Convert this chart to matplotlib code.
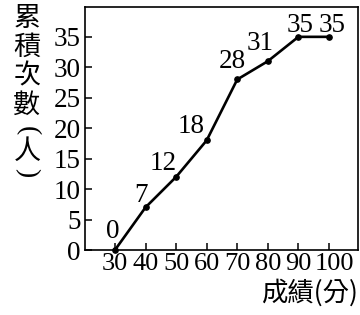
import matplotlib
matplotlib.use('Agg')
from matplotlib import pyplot as plt
from matplotlib.transforms import ScaledTranslation

# cumulative frequency data
scores = [30, 40, 50, 60, 70, 80, 90, 100]
cum_counts = [0, 7, 12, 18, 28, 31, 35, 35]
y_ticks = [0, 5, 10, 15, 20, 25, 30, 35]
x_title = '成績(分)'
y_title = ['累', '積', '次', '數', '(', '人', ')']

# label offsets (points) for each value label
label_dx = [-1.5, -3.6, -9, -11.5, -3.2, -5.4, 1, 2]
label_dy = [8.6, 3.6, 5, 5, 8.6, 7.9, 3.6, 3.6]

plt.rcParams['font.family'] = ['Liberation Serif', 'Noto Sans CJK TC']
cjk_font = ['Noto Sans CJK TC', 'DejaVu Sans']

fig = plt.figure(figsize=(3.6, 3.15), dpi=100)
ax = fig.add_axes([85/360, 65/315, 273/360, 243/315])

ax.plot(scores, cum_counts, color='black', linewidth=1.9,
        marker='o', markersize=3.8, zorder=3, clip_on=False)

for x, y, dx, dy in zip(scores, cum_counts, label_dx, label_dy):
    ax.annotate(str(y), (x, y), xytext=(dx, dy), textcoords='offset points',
                ha='center', va='baseline', fontsize=19.5)

ax.set_xlim(20.2, 109.5)
ax.set_ylim(0, 39.9)
ax.set_xticks(scores)
ax.set_yticks(y_ticks)
ax.set_xticklabels([str(s) for s in scores], fontsize=19)
ax.set_yticklabels([str(t) for t in y_ticks], fontsize=19.5)
ax.tick_params(direction='in', length=5, width=1.1, pad=3)
ax.tick_params(axis='x', pad=2.5)

# nudge the last x label right so it doesn't run into "90"
lab = ax.get_xticklabels()[-1]
lab.set_transform(lab.get_transform() + ScaledTranslation(5/100, 0, fig.dpi_scale_trans))

for s in ax.spines.values():
    s.set_linewidth(1.2)

# x title
fig.text(358/360, 1 - 301/315, x_title, ha='right', va='baseline',
         fontsize=19, family=cjk_font)

# y title written top to bottom, brackets turned sideways
y_pos = [18.5, 47.5, 76, 105.5, 131, 151.5, 173]
for ch, yp in zip(y_title, y_pos):
    if ch in '()':
        fig.text(27/360, 1 - yp/315, ch, ha='center', va='center',
                 rotation=-90, fontsize=20)
    else:
        fig.text(27/360, 1 - yp/315, ch, ha='center', va='center',
                 fontsize=19.5, family=cjk_font)

fig.savefig('out.png', dpi=100)
